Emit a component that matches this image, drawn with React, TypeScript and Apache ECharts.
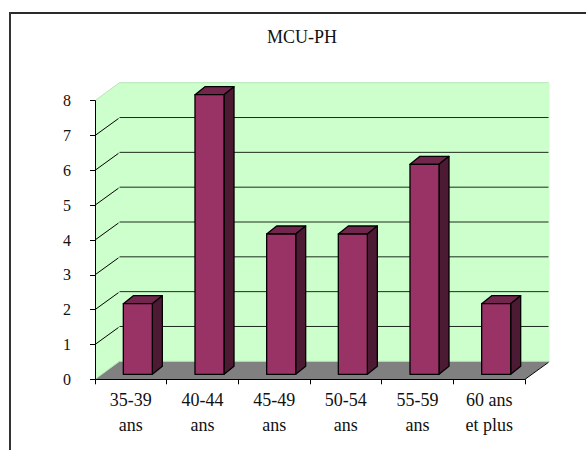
import React, { useEffect, useRef } from "react";
import * as echarts from "echarts";

const titleText = "MCU-PH";
const categories = ["35-39\nans", "40-44\nans", "45-49\nans", "50-54\nans", "55-59\nans", "60 ans\net plus"];
const values = [2, 8, 4, 4, 6, 2];
const wallTicks = [1, 2, 3, 4, 5, 6, 7];

const FONT = "'Liberation Serif', 'Times New Roman', serif";
const DX = 24.5;
const DY = -18;

function renderWalls(params: any, api: any) {
  const c = params.coordSys;
  const l = c.x, r = c.x + c.width, t = c.y, b = c.y + c.height;
  return {
    type: "group",
    children: [
      {
        type: "polygon",
        shape: { points: [[l, t], [l + DX, t + DY], [r + DX, t + DY], [r + DX, b + DY], [l + DX, b + DY], [l, b]] },
        style: { fill: "#ccffcc" },
      },
      {
        type: "polygon",
        shape: { points: [[l, b], [l + DX, b + DY], [r + DX, b + DY], [r, b]] },
        style: { fill: "#808080" },
      },
      { type: "line", shape: { x1: l, y1: t, x2: l + DX, y2: t + DY }, style: { stroke: "#b4e6b4", lineWidth: 1 } },
      { type: "line", shape: { x1: l + DX, y1: t + DY, x2: r + DX - 1, y2: t + DY }, style: { stroke: "#b4e6b4", lineWidth: 1 } },
      { type: "line", shape: { x1: l, y1: b, x2: l + DX, y2: b + DY }, style: { stroke: "#b4e6b4", lineWidth: 1 } },
      { type: "line", shape: { x1: l + DX, y1: b + DY, x2: r + DX, y2: b + DY }, style: { stroke: "#b4e6b4", lineWidth: 1 } },
      { type: "line", shape: { x1: r, y1: b, x2: r + DX - 1, y2: b + DY + 1 }, style: { stroke: "#000000", lineWidth: 1 } },
    ],
  };
}

function renderGridline(params: any, api: any) {
  const c = params.coordSys;
  const p = api.coord([0, api.value(1)]);
  const l = c.x, r = c.x + c.width;
  const y = p[1];
  return {
    type: "group",
    children: [
      { type: "line", shape: { x1: l, y1: y, x2: l + DX - 1, y2: y + DY + 1 }, style: { stroke: "#000000", lineWidth: 1 } },
      { type: "line", shape: { x1: l + DX, y1: y + DY, x2: r + DX - 1, y2: y + DY }, style: { stroke: "#1c2c1c", lineWidth: 1 } },
    ],
  };
}

function renderBar(params: any, api: any) {
  const top = api.coord([api.value(0), api.value(1)]);
  const base = api.coord([api.value(0), 0]);
  const band = api.size([1, 0])[0];
  const w = band * 0.405;
  const x0 = top[0] + 7 - w / 2;
  const x1 = x0 + w;
  const yTop = top[1] - 6;
  const yBase = base[1] - 5;
  const dx = 10, dy = -8;
  const stroke = { stroke: "#000000", lineWidth: 1.3, lineJoin: "round" };
  return {
    type: "group",
    children: [
      {
        type: "polygon",
        shape: { points: [[x0, yTop], [x0 + dx, yTop + dy], [x1 + dx, yTop + dy], [x1, yTop]] },
        style: { fill: "#73264d", ...stroke },
      },
      {
        type: "polygon",
        shape: { points: [[x1, yTop], [x1 + dx, yTop + dy], [x1 + dx, yBase + dy], [x1, yBase]] },
        style: { fill: "#4d1a33", ...stroke },
      },
      {
        type: "rect",
        shape: { x: x0, y: yTop, width: w, height: yBase - yTop },
        style: { fill: "#993366", ...stroke },
      },
    ],
  };
}

export default function App() {
  const ref = useRef<HTMLDivElement>(null);
  useEffect(() => {
    const chart = echarts.init(ref.current!, null, { renderer: "svg" });
    chart.setOption({
      animation: false,
      backgroundColor: "#ffffff",
      textStyle: { fontFamily: FONT },
      title: {
        text: titleText,
        left: 297,
        top: 23,
        textAlign: "center",
        textStyle: { fontFamily: FONT, fontSize: 18, fontWeight: "normal", color: "#111111" },
      },
      grid: { left: 95, right: 61, top: 100.7, bottom: 70.7 },
      xAxis: {
        type: "category",
        data: categories,
        z: 5,
        axisLine: { lineStyle: { color: "#000000", width: 1 } },
        axisTick: { show: true, length: 5, alignWithLabel: false, lineStyle: { color: "#000000" } },
        axisLabel: { color: "#111111", fontFamily: FONT, fontSize: 18, lineHeight: 25, margin: 8, interval: 0 },
      },
      yAxis: {
        type: "value",
        min: 0,
        max: 8,
        interval: 1,
        z: 5,
        axisLine: { show: true, lineStyle: { color: "#000000", width: 1 } },
        axisTick: { show: true, length: 5, lineStyle: { color: "#000000" } },
        axisLabel: { color: "#111111", fontFamily: FONT, fontSize: 16, margin: 24, align: "right" },
        splitLine: { show: false },
      },
      series: [
        { type: "custom", z: 1, renderItem: renderWalls, data: [[0, 0]], silent: true },
        { type: "custom", z: 2, renderItem: renderGridline, data: wallTicks.map((v) => [0, v]), silent: true },
        { type: "custom", z: 3, renderItem: renderBar, data: values.map((v, i) => [i, v]) },
      ],
      graphic: [
        { type: "line", shape: { x1: 9, y1: 13, x2: 586, y2: 13 }, style: { stroke: "#2a2a2a", lineWidth: 2 } },
        { type: "line", shape: { x1: 10, y1: 12, x2: 10, y2: 450 }, style: { stroke: "#333333", lineWidth: 2 } },
      ],
    });
    return () => chart.dispose();
  }, []);
  return <div ref={ref} style={{ position: "absolute", left: 0, top: 0, width: 586, height: 450 }} />;
}
